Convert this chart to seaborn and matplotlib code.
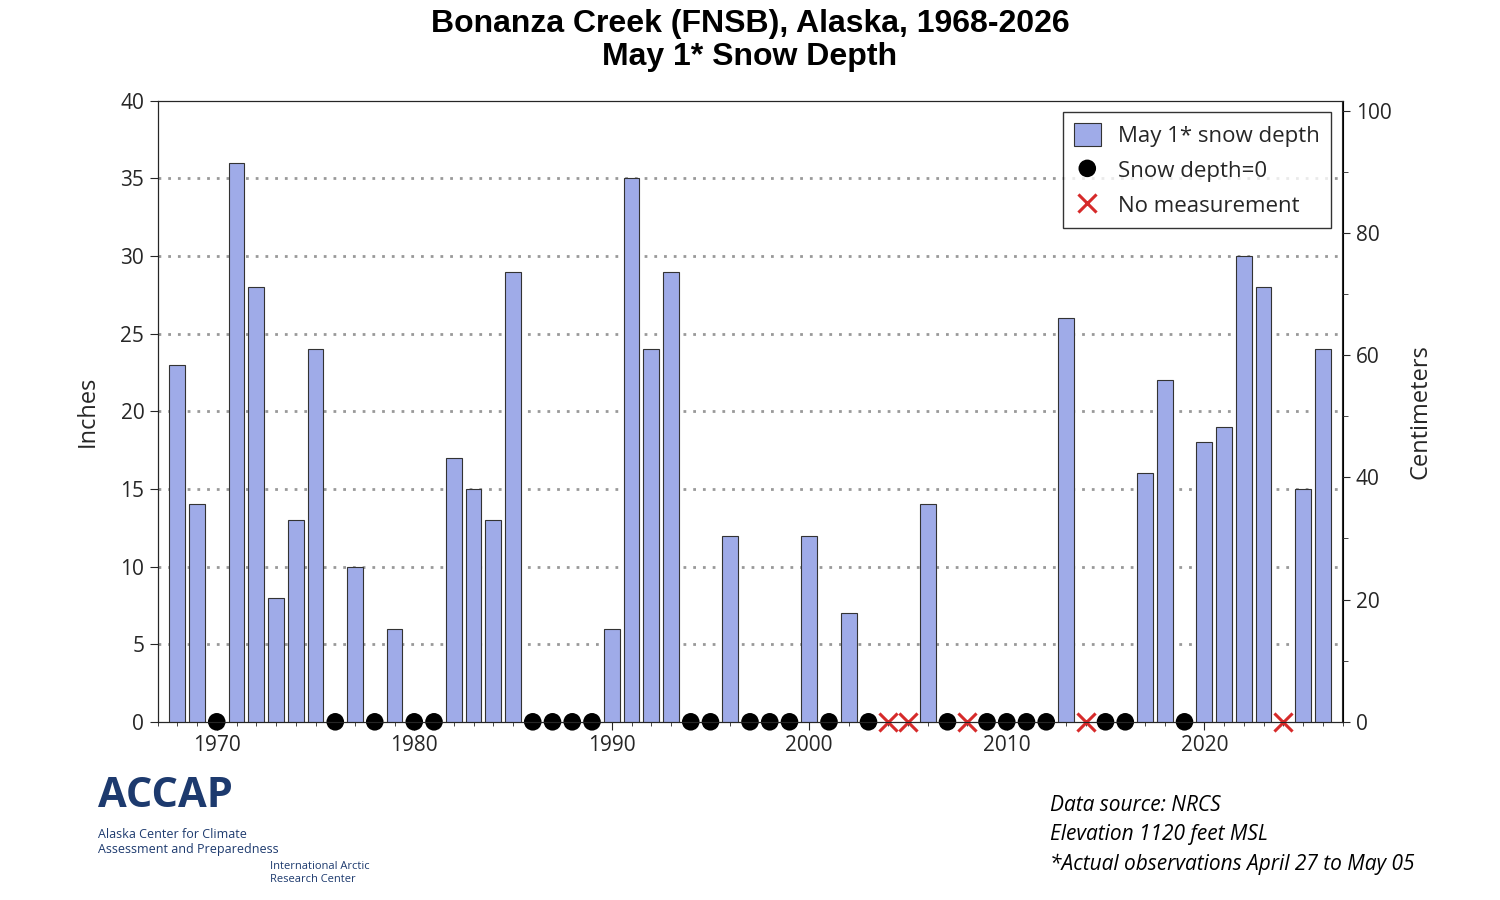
import numpy as np
import pandas as pd
import matplotlib.pyplot as plt
import seaborn as sns

years = list(range(1968, 2027))
depth = [23, 14, 0, 36, 28, 8, 13, 24, 0, 10, 0, 6, 0, 0, 17, 15, 13, 29,
         0, 0, 0, 0, 6, 35, 24, 29, 0, 0, 12, 0, 0, 0, 12, 0, 7, 0,
         np.nan, np.nan, 14, 0, np.nan, 0, 0, 0, 0, 26, np.nan, 0, 0,
         16, 22, 0, 18, 19, 30, 28, np.nan, 15, 24]

df = pd.DataFrame({"Year": years, "Depth": depth})
zero = df[df["Depth"] == 0]
missing = df[df["Depth"].isna()]
bars = df[df["Depth"] > 0]

sns.set_style("white")
plt.rcParams["font.family"] = ["Open Sans", "DejaVu Sans"]
fig = plt.figure(figsize=(15, 9), dpi=100)
ax = fig.add_axes([0.105, 0.198, 0.79, 0.69])

ax.bar(bars["Year"], bars["Depth"], width=0.8, color="#9fabe8",
       edgecolor="#333333", linewidth=0.8, label="May 1* snow depth", zorder=3)
sns.scatterplot(x=zero["Year"], y=zero["Depth"], ax=ax, color="black", s=160,
                edgecolor="none", label="Snow depth=0", zorder=4, clip_on=False)
sns.scatterplot(x=missing["Year"], y=[0] * len(missing), ax=ax, color="#d62a2a",
                marker="x", s=170, linewidth=2.2, label="No measurement",
                zorder=4, clip_on=False)

for y in range(5, 40, 5):
    ax.axhline(y, color="#999999", linestyle=(0, (1, 2.5)), linewidth=2, zorder=1)

ax.set_xlim(1967, 2027)
ax.set_ylim(0, 40)
ax.set_yticks(range(0, 41, 5))
ax.set_xticks([1970, 1980, 1990, 2000, 2010, 2020])
ax.set_xticks(range(1967, 2028), minor=True)
ax.tick_params(axis="both", labelsize=15, direction="out", length=6, left=True, bottom=True)
ax.tick_params(axis="x", which="minor", length=3, bottom=True)
ax.set_ylabel("Inches", fontsize=17, labelpad=15)
ax.set_xlabel("")
for s in ax.spines.values():
    s.set_color("black")

ax2 = ax.twinx()
ax2.set_ylim(0, 40 * 2.54)
ax2.set_yticks(range(0, 101, 20))
ax2.set_yticks(range(0, 101, 10), minor=True)
ax2.tick_params(axis="y", labelsize=15, direction="out", length=6, right=True)
ax2.tick_params(axis="y", which="minor", length=4, right=True)
ax2.set_ylabel("Centimeters", fontsize=17, labelpad=12)

handles, labels = ax.get_legend_handles_labels()
order = [labels.index(l) for l in ["May 1* snow depth", "Snow depth=0", "No measurement"]]
leg = ax.legend([handles[i] for i in order], [labels[i] for i in order],
                loc="upper right", fontsize=16, frameon=True, fancybox=False,
                edgecolor="black", borderpad=0.5, handletextpad=0.8,
                handlelength=1.2, handleheight=1.2)
leg.get_frame().set_linewidth(1)

fig.suptitle("Bonanza Creek (FNSB), Alaska, 1968-2026\nMay 1* Snow Depth",
             fontsize=23, fontweight="bold", y=0.99, linespacing=1.15, color="black",
             family=["Liberation Sans", "DejaVu Sans"])

fig.text(0.70, 0.072, "Data source: NRCS\nElevation 1120 feet MSL\n*Actual observations April 27 to May 05",
         fontsize=15, style="italic", va="center", linespacing=1.5, color="black")
fig.text(0.065, 0.115, "ACCAP", fontsize=30, fontweight="bold", color="#1d3a6e", va="center")
fig.text(0.065, 0.065, "Alaska Center for Climate\nAssessment and Preparedness",
         fontsize=9, color="#1d3a6e", va="center")
fig.text(0.18, 0.03, "International Arctic\nResearch Center", fontsize=8,
         color="#1d3a6e", va="center")

fig.savefig("out.png", dpi=100)
